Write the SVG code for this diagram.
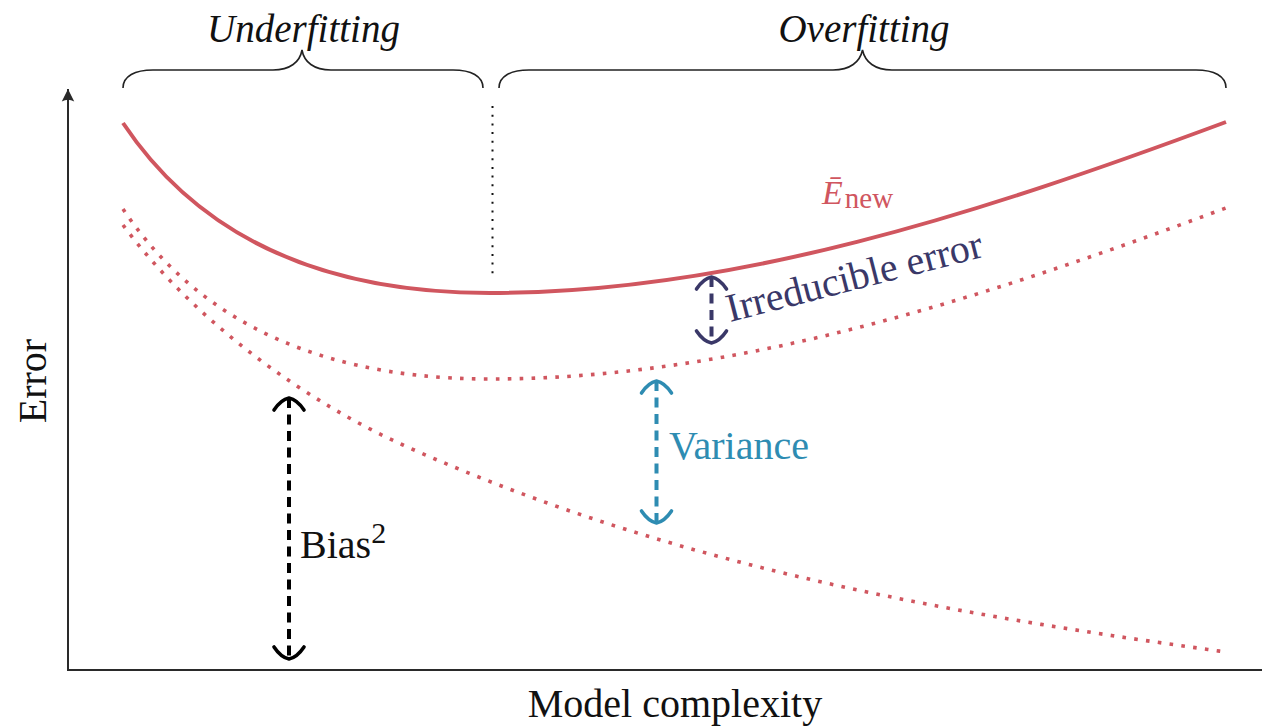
<svg xmlns="http://www.w3.org/2000/svg" width="1262" height="727" viewBox="0 0 1262 727">
<style>
text{font-family:"Liberation Serif","Times New Roman",serif;font-size:40px;fill:#111}
.solid{fill:none;stroke:#d0565f;stroke-width:4}
.dots{fill:none;stroke:#d0565f;stroke-width:3.6;stroke-dasharray:3.6 8.3}
.brace{fill:none;stroke:#222;stroke-width:1.6}
.axis{fill:none;stroke:#2a2a2a;stroke-width:2}
.shaft{fill:none;stroke-width:4;stroke-dasharray:10 6.5}
</style>
<defs>
<marker id="hk" markerUnits="userSpaceOnUse" markerWidth="40" markerHeight="40" viewBox="-20 -20 40 40" refX="0" refY="0" orient="auto-start-reverse" overflow="visible">
<path d="M-12,-15 C-6,-11 -1,-5 0,0 C-1,5 -6,11 -12,15" fill="none" stroke="#000" stroke-width="3.6" stroke-linecap="round" stroke-linejoin="round"/>
</marker>
<marker id="hv" markerUnits="userSpaceOnUse" markerWidth="40" markerHeight="40" viewBox="-20 -20 40 40" refX="0" refY="0" orient="auto-start-reverse" overflow="visible">
<path d="M-12,-15 C-6,-11 -1,-5 0,0 C-1,5 -6,11 -12,15" fill="none" stroke="#2e8cb2" stroke-width="3.6" stroke-linecap="round" stroke-linejoin="round"/>
</marker>
<marker id="hi" markerUnits="userSpaceOnUse" markerWidth="40" markerHeight="40" viewBox="-20 -20 40 40" refX="0" refY="0" orient="auto-start-reverse" overflow="visible">
<path d="M-12,-15 C-6,-11 -1,-5 0,0 C-1,5 -6,11 -12,15" fill="none" stroke="#3a3868" stroke-width="3.6" stroke-linecap="round" stroke-linejoin="round"/>
</marker>
<marker id="ax" markerUnits="userSpaceOnUse" markerWidth="20" markerHeight="20" viewBox="-12 -8 16 16" refX="0" refY="0" orient="auto" overflow="visible">
<path d="M0,0 L-10,-5 Q-7,0 -10,5 Z" fill="#2a2a2a"/>
</marker>
</defs>

<g id="axes">
<path class="axis" d="M68,670 L68,89" marker-end="url(#ax)"/>
<path class="axis" d="M67,670 L1262,670"/>
</g>

<g id="braces">
<path class="brace" d="M123,88 C123,76 135,70 153,70 L273,70 C290,70 300,62 302,50 C304,62 314,70 331,70 L453,70 C471,70 483,76 483,88"/>
<path class="brace" d="M499,88 C499,76 511,70 529,70 L833,70 C850,70 860,62 862.5,50 C865,62 875,70 892,70 L1196,70 C1214,70 1226,76 1226,88"/>
<path d="M492.5,106 L492.5,277" fill="none" stroke="#111" stroke-width="2" stroke-dasharray="2 6.7"/>
</g>

<g id="curves">
<path id="enew" class="solid" d="M123,123 C183,213 290,293 490,293 C735,293 981,213 1226,122"/>
<path id="biasvar" class="dots" d="M123,209 C183,299 290,379 490,379 C735,379 981,299 1226,208"/>
<path id="bias" class="dots" d="M123,225 C198,326 310,403 403,445 C677,568 952,614 1226,652"/>
</g>

<g id="connectors">
<path class="shaft" stroke="#000" d="M289,398 L289,659" marker-start="url(#hk)" marker-end="url(#hk)"/>
<path class="shaft" stroke="#2e8cb2" d="M656.5,381 L656.5,523" marker-start="url(#hv)" marker-end="url(#hv)"/>
<path class="shaft" stroke="#3a3868" d="M711.5,277 L711.5,343" marker-start="url(#hi)" marker-end="url(#hi)"/>
</g>

<g id="labels">
<text x="303.5" y="42" style="font-family:'Liberation Serif',serif;font-style:italic;font-size:39px" text-anchor="middle">Underfitting</text>
<text x="864" y="42" style="font-family:'Liberation Serif',serif;font-style:italic;font-size:39px" text-anchor="middle">Overfitting</text>
<text x="675" y="717" style="font-family:'Liberation Serif',serif" text-anchor="middle">Model complexity</text>
<text transform="translate(46,381) rotate(-90)" style="font-family:'Liberation Serif',serif" text-anchor="middle">Error</text>
<text x="300" y="558" style="font-family:'Liberation Serif',serif">Bias<tspan style="font-size:30px" dy="-15">2</tspan></text>
<text x="669" y="459" style="font-family:'Liberation Serif',serif;fill:#2e8cb2">Variance</text>
<text transform="translate(730,322) rotate(-14.4)" style="font-family:'Liberation Serif',serif;fill:#3a3868">Irreducible error</text>
<text x="822" y="204" style="font-family:'Liberation Serif',serif;fill:#d0565f"><tspan style="font-style:italic;font-size:34px">Ē</tspan><tspan style="font-size:29px" dx="2" dy="4">new</tspan></text>
</g>
</svg>
